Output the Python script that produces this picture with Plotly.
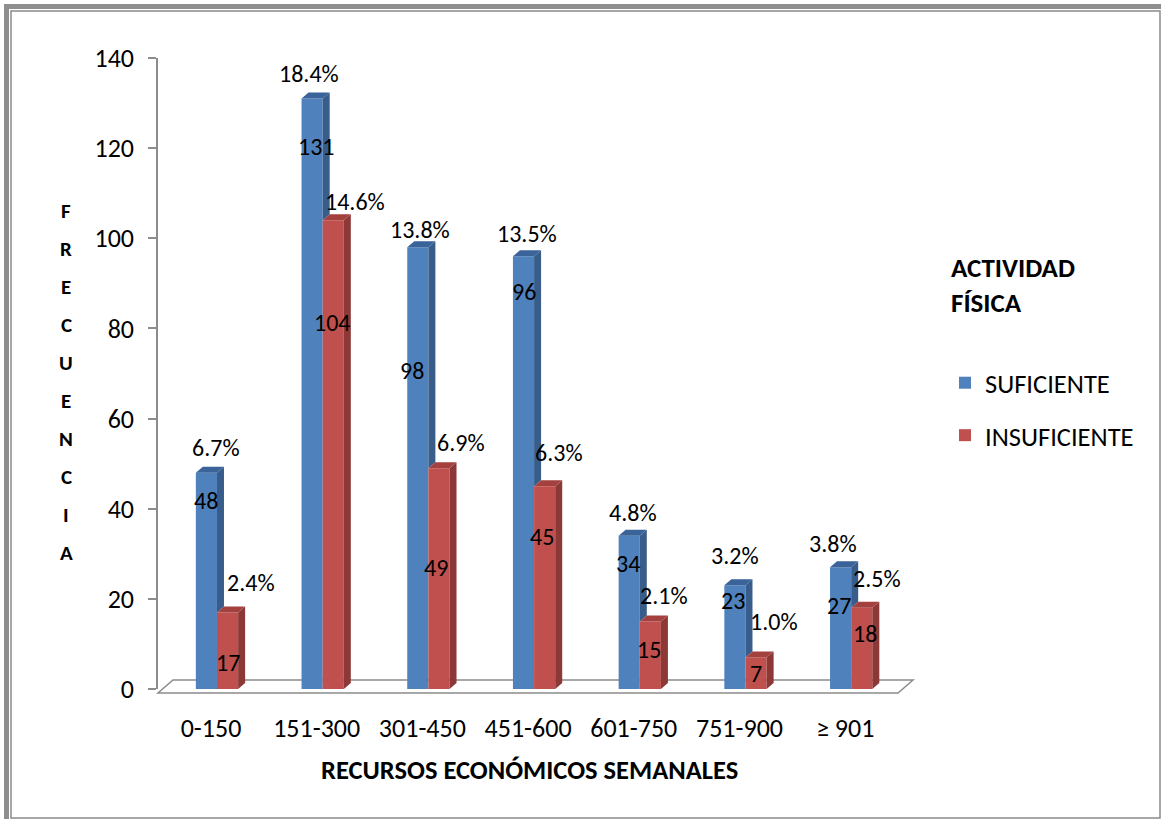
import plotly.graph_objects as go

# ---- data -------------------------------------------------------------
categories = ["0-150", "151-300", "301-450", "451-600", "601-750", "751-900", "≥ 901"]
suficiente = [48, 131, 98, 96, 34, 23, 27]
insuficiente = [17, 104, 49, 45, 15, 7, 18]
y_ticks = [0, 20, 40, 60, 80, 100, 120, 140]

series_names = ["SUFICIENTE", "INSUFICIENTE"]
legend_title = "ACTIVIDAD<br>FÍSICA"
x_title = "RECURSOS ECONÓMICOS SEMANALES"
y_title = "FRECUENCIA"

# ---- label nudges (pixels): value labels inside bars, percent labels above ----
val_dx_blue = [0, 4, -6, 0, -1, -2, -2]
val_dy_blue = [-28, -48, -123, -35, -28, -15, -38]
val_dx_red = [0, -1, -3, -3, -1, 0, 3]
val_dy_red = [-50, -102, -99, -50, -28, -16, -26]
pct_dx_blue = [10, -3, 2, 3, 4, 0, -8]
pct_dy_blue = [25, 25, 18, 23, 23, 30, 24]
pct_dx_red = [23, 22, 22, 14, 14, 18, 15]
pct_dy_red = [30, 19, 26, 34, 26, 36, 29]

# ---- geometry ---------------------------------------------------------
W, H = 1161, 819
FONT = "Carlito, Lato, 'Open Sans', sans-serif"
BLUE, BLUE_SIDE, BLUE_TOP = "#4F81BD", "#385D8A", "#3A6399"
RED, RED_SIDE, RED_TOP = "#C0504D", "#8C3836", "#A4413E"

plot_left, plot_right = 158, 898      # px
plot_top, plot_bottom = 58, 689       # px
x_lo = -0.558
x_hi = x_lo + (plot_right - plot_left) / 105.7
y_hi = 140
px_per_x = (plot_right - plot_left) / (x_hi - x_lo)
px_per_y = (plot_bottom - plot_top) / y_hi

bar_w = 0.2
depth_x = 7 / px_per_x     # 3-D depth offset in data units
depth_y = 6 / px_per_y

total = sum(suficiente) + sum(insuficiente)
idx = list(range(len(categories)))

fig = go.Figure()

fig.add_trace(go.Bar(x=idx, y=suficiente, width=bar_w, offset=-bar_w,
                     marker=dict(color=BLUE, line=dict(width=0)),
                     name=series_names[0], legendgroup="a"))
fig.add_trace(go.Bar(x=idx, y=insuficiente, width=bar_w, offset=0,
                     marker=dict(color=RED, line=dict(width=0)),
                     name=series_names[1], legendgroup="b"))


def faces(xs, ys, color):
    fig.add_trace(go.Scatter(x=xs, y=ys, mode="lines", fill="toself",
                             fillcolor=color, line=dict(width=0, color=color),
                             hoverinfo="skip", showlegend=False))


# side and top faces of the columns
bs_x, bs_y, bt_x, bt_y = [], [], [], []
rs_x, rs_y, rt_x, rt_y = [], [], [], []
for i, v, r in zip(idx, suficiente, insuficiente):
    xr = i
    bs_x += [xr, xr, xr + depth_x, xr + depth_x, xr, None]
    bs_y += [r, v, v + depth_y, r + depth_y, r, None]
    bt_x += [i - bar_w, xr, xr + depth_x, i - bar_w + depth_x, i - bar_w, None]
    bt_y += [v, v, v + depth_y, v + depth_y, v, None]
    xr2 = i + bar_w
    rs_x += [xr2, xr2, xr2 + depth_x, xr2 + depth_x, xr2, None]
    rs_y += [0, r, r + depth_y, depth_y, 0, None]
    rt_x += [i, xr2, xr2 + depth_x, i + depth_x, i, None]
    rt_y += [r, r, r + depth_y, r + depth_y, r, None]

faces(bs_x, bs_y, BLUE_SIDE)
faces(bt_x, bt_y, BLUE_TOP)
faces(rs_x, rs_y, RED_SIDE)
faces(rt_x, rt_y, RED_TOP)

ann = []
lab_font = dict(family=FONT, size=24, color="black")
for i in idx:
    v, r = suficiente[i], insuficiente[i]
    ann.append(dict(x=i - bar_w / 2, y=v, xref="x", yref="y", text=str(v),
                    showarrow=False, font=lab_font,
                    xshift=val_dx_blue[i], yshift=val_dy_blue[i]))
    ann.append(dict(x=i + bar_w / 2, y=r, xref="x", yref="y", text=str(r),
                    showarrow=False, font=lab_font,
                    xshift=val_dx_red[i], yshift=val_dy_red[i]))
    ann.append(dict(x=i - bar_w / 2, y=v, xref="x", yref="y",
                    text=f"{100 * v / total:.1f}%", showarrow=False,
                    font=lab_font, xshift=pct_dx_blue[i], yshift=pct_dy_blue[i]))
    ann.append(dict(x=i + bar_w / 2, y=r, xref="x", yref="y",
                    text=f"{100 * r / total:.1f}%", showarrow=False,
                    font=lab_font, xshift=pct_dx_red[i], yshift=pct_dy_red[i]))


def paper_text(x, y, text, size, xanchor="center"):
    ann.append(dict(x=x / W, y=1 - y / H, xref="paper", yref="paper",
                    xanchor=xanchor, yanchor="middle", align="left",
                    text=f"<b>{text}</b>", showarrow=False,
                    font=dict(family=FONT, size=size, color="black")))


# vertical axis title, one letter per line
for k, ch in enumerate(y_title):
    paper_text(66, 211 + 38 * k, ch, 21)

paper_text(529, 770, x_title, 26.5)
paper_text(949, 285, legend_title, 27, xanchor="left")

px = lambda v: v / W
py = lambda v: 1 - v / H
shapes = [
    # floor of the 3-D plot
    dict(type="path", xref="paper", yref="paper", layer="below",
         path=f"M {px(158)},{py(693)} L {px(898)},{py(693)} L {px(913)},{py(680)} "
              f"L {px(173)},{py(680)} Z",
         line=dict(color="#8C8C8C", width=1.5), fillcolor="rgba(0,0,0,0)"),
    # frame
    dict(type="rect", xref="paper", yref="paper", x0=px(4), x1=px(9), y0=py(4), y1=py(819),
         line=dict(width=0), fillcolor="#8E8E8E"),
    dict(type="rect", xref="paper", yref="paper", x0=px(4), x1=px(1161), y0=py(4), y1=py(9),
         line=dict(width=0), fillcolor="#8E8E8E"),
    dict(type="rect", xref="paper", yref="paper", x0=px(11), x1=px(1160), y0=py(11), y1=py(818),
         line=dict(width=1.5, color="#8A8A8A"), fillcolor="rgba(0,0,0,0)"),
]

fig.update_layout(
    width=W, height=H,
    margin=dict(l=0, r=0, t=0, b=0, autoexpand=False),
    paper_bgcolor="white", plot_bgcolor="rgba(0,0,0,0)",
    font=dict(family=FONT, color="black"),
    barmode="overlay",
    showlegend=True,
    legend=dict(x=945 / W, y=1 - 359 / H, xanchor="left", yanchor="top",
                font=dict(family=FONT, size=26.5, color="black"),
                traceorder="grouped", tracegroupgap=15,
                bgcolor="rgba(0,0,0,0)"),
    xaxis=dict(domain=[plot_left / W, plot_right / W], range=[x_lo, x_hi],
               tickmode="array", tickvals=idx, ticktext=categories,
               showgrid=False, zeroline=False, showline=False, ticks="",
               automargin=False,
               tickfont=dict(family=FONT, size=26, color="black"),
               ticklabelstandoff=21, ticklabelshift=-6, fixedrange=True),
    yaxis=dict(domain=[1 - plot_bottom / H, 1 - plot_top / H], range=[0, y_hi],
               tickmode="array", tickvals=y_ticks,
               showgrid=False, zeroline=False, showline=True,
               linecolor="#8C8C8C", linewidth=1.5, automargin=False,
               ticks="outside", ticklen=8, tickcolor="#8C8C8C", tickwidth=1.5,
               tickfont=dict(family=FONT, size=26, color="black"),
               ticklabelstandoff=9, fixedrange=True),
    annotations=ann,
    shapes=shapes,
)

fig.write_html("out.html")
